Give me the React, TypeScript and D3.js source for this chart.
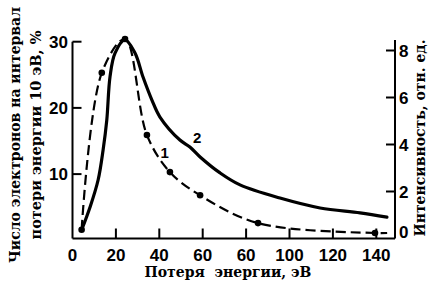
// App.tsx
import React, { useRef, useEffect } from 'react';
import * as d3 from 'd3';

// curve 1 (dashed, dots) — left axis, %
const energy1 = [4.2, 13.5, 24.2, 34.3, 44.9, 58.8, 85.5, 139.4, 145];
const share1 = [1.6, 25.3, 30.4, 15.9, 10.3, 6.8, 2.6, 1.1, 1.1];
const dotCount1 = 8;

// curve 2 (solid) — right axis, rel. units
const energy2 = [4.2, 8.1, 11.8, 14.1, 15.8, 17.3, 19.6, 24.2, 28.8, 32.5, 36.6, 40.3, 49.5, 54.1, 58.8, 68.0, 77.2, 95.6, 114.1, 132.5, 144.9];
const intens2 = [0.36, 1.34, 2.49, 3.77, 5.04, 6.89, 7.89, 8.45, 7.89, 6.87, 5.89, 5.17, 4.19, 3.89, 3.47, 2.79, 2.28, 1.72, 1.30, 1.09, 0.91];

const xTicks = [0, 20, 40, 60, 80, 100, 120, 140];
const xTickLabels = ['0', '20', '40', '60', '60', '100', '120', '140'];
const leftTicks = [10, 20, 30];
const rightTicks = [0, 2, 4, 6, 8];

const W = 434;
const H = 284;

const App: React.FC = () => {
    const svgRef = useRef<SVGSVGElement | null>(null);

    useEffect(() => {
        const svg = d3.select(svgRef.current);
        svg.selectAll('*').remove();

        const x = d3.scaleLinear().domain([0, 140]).range([72.5, 376.3]);
        const yL = d3.scaleLinear().domain([0, 30]).range([240.3, 41.7]);
        const yR = d3.scaleLinear().domain([0, 8]).range([238.5, 50.5]);

        const left = 72.5, right = 395, bottom = 238.5;
        const tickFont = 'Liberation Sans, Arial, sans-serif';
        const titleFont = 'DejaVu Serif, serif';

        const axes = svg.append('g').attr('stroke', '#000').attr('stroke-width', 2).attr('fill', 'none');
        axes.append('line').attr('x1', left).attr('x2', left).attr('y1', yL(30)).attr('y2', bottom);
        axes.append('line').attr('x1', left).attr('x2', right).attr('y1', bottom).attr('y2', bottom);
        axes.append('line').attr('x1', right).attr('x2', right).attr('y1', 40).attr('y2', bottom);

        // ticks
        axes.selectAll('.lt').data(leftTicks).enter().append('line')
            .attr('x1', left).attr('x2', left + 9)
            .attr('y1', d => yL(d)).attr('y2', d => yL(d));
        axes.selectAll('.bt').data(xTicks.slice(1)).enter().append('line')
            .attr('x1', d => x(d)).attr('x2', d => x(d))
            .attr('y1', bottom).attr('y2', bottom - 10);
        axes.selectAll('.rt').data(rightTicks.slice(1)).enter().append('line')
            .attr('x1', right - 9).attr('x2', right)
            .attr('y1', d => yR(d)).attr('y2', d => yR(d));

        // tick labels
        svg.selectAll('.ll').data(leftTicks).enter().append('text')
            .attr('x', 68).attr('y', d => yL(d)).attr('dy', '0.36em')
            .attr('text-anchor', 'end')
            .style('font-family', tickFont).style('font-weight', 'bold').style('font-size', '17px')
            .text(d => d);
        svg.selectAll('.bl').data(xTicks).enter().append('text')
            .attr('x', d => x(d)).attr('y', 261)
            .attr('text-anchor', 'middle')
            .style('font-family', tickFont).style('font-weight', 'bold').style('font-size', '17px')
            .text((d, i) => xTickLabels[i]);
        svg.selectAll('.rl').data(rightTicks).enter().append('text')
            .attr('x', 399).attr('y', d => Math.min(yR(d), 232)).attr('dy', '0.36em')
            .style('font-family', tickFont).style('font-weight', 'bold').style('font-size', '17px')
            .text(d => d);

        // axis titles
        const yTitle = svg.append('text')
            .attr('transform', 'translate(20,135) rotate(-90)')
            .attr('text-anchor', 'middle')
            .style('font-family', titleFont).style('font-weight', 'bold');
        yTitle.append('tspan').attr('x', 0).attr('y', 0).style('font-size', '14px').text('Число электронов на интервал');
        yTitle.append('tspan').attr('x', 0).attr('y', 21).style('font-size', '14.5px').text('потери энергии 10 эВ, %');

        svg.append('text')
            .attr('transform', 'translate(425,138) rotate(-90)')
            .attr('text-anchor', 'middle')
            .style('font-family', titleFont).style('font-weight', 'bold').style('font-size', '14px')
            .text('Интенсивность, отн. ед.');

        svg.append('text')
            .attr('x', 228).attr('y', 277)
            .attr('text-anchor', 'middle')
            .style('font-family', titleFont).style('font-weight', 'bold').style('font-size', '14px')
            .style('white-space', 'pre')
            .text('Потеря  энергии, эВ');

        // curves
        const line1 = d3.line<number>()
            .x((d, i) => x(energy1[i]))
            .y(d => yL(d))
            .curve(d3.curveCatmullRom.alpha(0.5));
        svg.append('path')
            .attr('d', line1(share1))
            .attr('fill', 'none').attr('stroke', '#000')
            .attr('stroke-width', 2.2).attr('stroke-dasharray', '10,5');

        svg.selectAll('.dot').data(share1.slice(0, dotCount1)).enter().append('circle')
            .attr('cx', (d, i) => x(energy1[i]))
            .attr('cy', d => yL(d))
            .attr('r', 3.3).attr('fill', '#000');

        const line2 = d3.line<number>()
            .x((d, i) => x(energy2[i]))
            .y(d => yR(d))
            .curve(d3.curveCatmullRom.alpha(0.5));
        svg.append('path')
            .attr('d', line2(intens2))
            .attr('fill', 'none').attr('stroke', '#000')
            .attr('stroke-width', 3.2).attr('stroke-linecap', 'round');

        // curve numbers
        const numStyle = (t: d3.Selection<SVGTextElement, unknown, null, undefined>) =>
            t.style('font-family', tickFont).style('font-weight', 'bold').style('font-size', '15px').attr('text-anchor', 'middle');
        svg.append('text').attr('x', x(42.5)).attr('y', yL(12.4)).text('1').call(numStyle);
        svg.append('text').attr('x', x(57.5)).attr('y', yR(4.05)).text('2').call(numStyle);
    }, []);

    return (
        <svg
            ref={svgRef}
            width={W}
            height={H}
            style={{ position: 'absolute', left: 0, top: 0, background: '#fff' }}
        ></svg>
    );
};

export default App;
